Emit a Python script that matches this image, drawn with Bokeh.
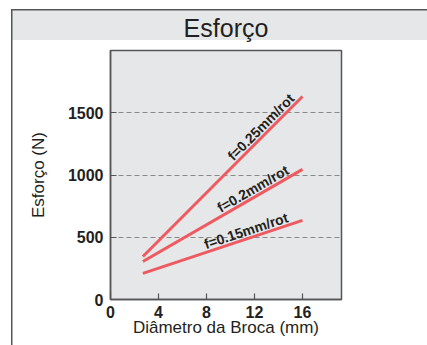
import math
from bokeh.plotting import figure
from bokeh.models import Range1d, FixedTicker
from bokeh.core.properties import value
from bokeh.embed import file_html
from bokeh.resources import INLINE

# ---- data ----
feeds = ["f=0.25mm/rot", "f=0.2mm/rot", "f=0.15mm/rot"]
diam = [2.7, 16.0]
force_025 = [345, 1630]
force_020 = [305, 1045]
force_015 = [210, 635]
x_ticks = [0, 4, 8, 12, 16]
y_ticks = [0, 500, 1000, 1500]
grid_ticks = [500, 1000, 1500]

series = [force_025, force_020, force_015]
label_x = [13.0, 12.2, 11.5]

FONT = "Liberation Sans"
RED = "#ee5a5f"
DARK = "#555555"
GREY_BG = "#e6e7e8"

W, H = 427, 345
bg = ", ".join([
    f"linear-gradient({DARK},{DARK}) 11px 9px / 1.5px 400px no-repeat",
    f"linear-gradient({DARK},{DARK}) 11px 9px / 430px 1.5px no-repeat",
    f"linear-gradient({GREY_BG},{GREY_BG}) 12px 10px / 430px 30px no-repeat",
    "white",
])

p = figure(width=W, height=H, output_backend="svg", toolbar_location=None,
           x_range=Range1d(0, 19.25), y_range=Range1d(0, 2000),
           min_border_left=110, min_border_right=86,
           min_border_top=50, min_border_bottom=46,
           title="Esforço", styles={"background": bg})
p.background_fill_color = GREY_BG
p.border_fill_color = None
p.outline_line_color = DARK
p.outline_line_width = 1.5

p.title.align = "center"
p.title.text_font = FONT
p.title.text_font_size = "25px"
p.title.text_font_style = "normal"
p.title.text_color = "#231f20"
p.title.standoff = 17

# axes
for ax in (p.xaxis[0], p.yaxis[0]):
    ax.axis_line_color = DARK
    ax.axis_line_width = 1.5
    ax.major_tick_line_color = DARK
    ax.major_tick_line_width = 1.2
    ax.minor_tick_line_color = None
    ax.major_tick_in = 6
    ax.major_tick_out = 0
    ax.major_label_text_font = FONT
    ax.major_label_text_font_size = "16px"
    ax.major_label_text_font_style = "bold"
    ax.major_label_text_color = "#231f20"
    ax.axis_label_text_font = FONT
    ax.axis_label_text_font_size = "17px"
    ax.axis_label_text_font_style = "normal"
    ax.axis_label_text_color = "#231f20"

p.xaxis.ticker = FixedTicker(ticks=x_ticks)
p.yaxis.ticker = FixedTicker(ticks=y_ticks)
p.xaxis.axis_label = "Diâmetro da Broca (mm)"
p.yaxis.axis_label = "Esforço (N)"
p.xaxis.major_label_standoff = 6
p.yaxis.major_label_standoff = 7
p.xaxis.axis_label_standoff = -3
p.yaxis.axis_label_standoff = 17

p.xgrid.grid_line_color = None
p.ygrid.ticker = FixedTicker(ticks=grid_ticks)
p.ygrid.grid_line_color = "#8a8a8a"
p.ygrid.grid_line_dash = "5 3"
p.ygrid.grid_line_width = 1.2

# lines and labels
px_per_x = 231 / 19.25
px_per_y = 249 / 2000
for name, ys, lx in zip(feeds, series, label_x):
    p.line(diam, ys, line_color=RED, line_width=3)
    slope = (ys[1] - ys[0]) / (diam[1] - diam[0])
    ly = ys[0] + slope * (lx - diam[0])
    theta = math.atan2(slope * px_per_y, px_per_x)
    off = 8
    p.text(x=[lx], y=[ly], text=[name], angle=theta,
           x_offset=-off * math.sin(theta), y_offset=-off * math.cos(theta),
           text_align="center", text_baseline="middle",
           text_font=value(FONT), text_font_size="14px",
           text_font_style="bold", text_color="#231f20")

open("out.html", "w").write(file_html(p, INLINE))
